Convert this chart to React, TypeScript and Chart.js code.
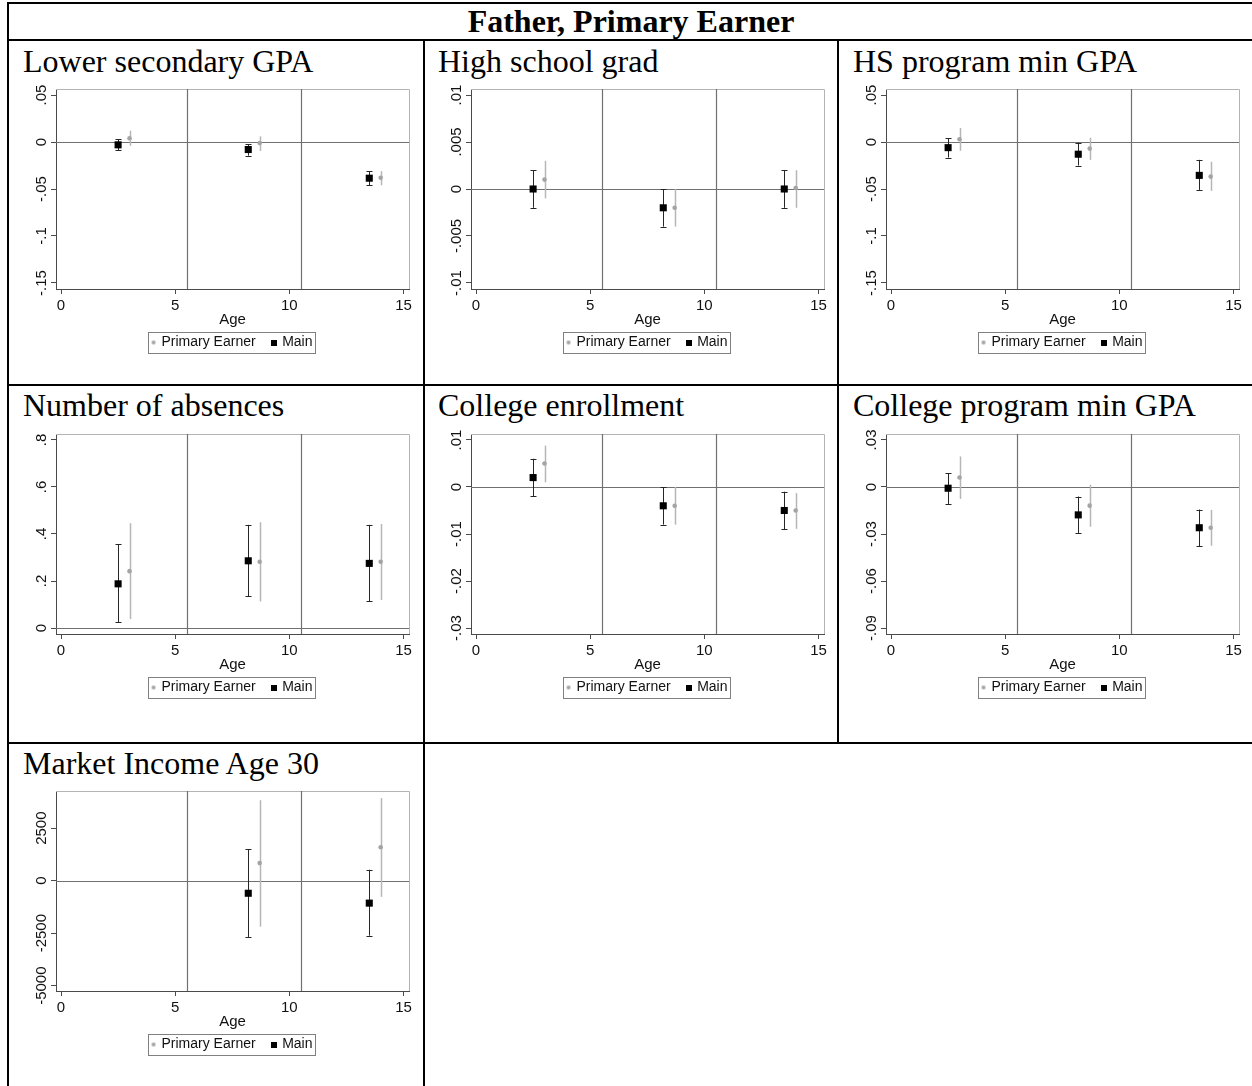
import React, { useEffect, useRef } from "react";
import { Chart, registerables } from "chart.js";

Chart.register(...registerables);

// ---------------- data ----------------
const pageTitle = "Father, Primary Earner";
const seriesNames = ["Primary Earner", "Main"];
const xAxisTitle = "Age";

const mainAges = [2.5, 8.2, 13.5];
const earnerAges = [3.0, 8.7, 14.0];
const ageTicks = [0, 5, 10, 15];
const ageTickLabels = ["0", "5", "10", "15"];
const ageBreaks = [5.5, 10.5];
const zeroLine = 0;

// Lower secondary GPA
const gpaMain = [-0.003, -0.008, -0.0385];
const gpaMainLo = [-0.009, -0.0145, -0.046];
const gpaMainHi = [0.003, -0.0025, -0.031];
const gpaEarner = [0.004, -0.001, -0.038];
const gpaEarnerLo = [-0.004, -0.0095, -0.046];
const gpaEarnerHi = [0.012, 0.006, -0.031];
const gpaTicks = [-0.15, -0.1, -0.05, 0, 0.05];
const gpaTickLabels = ["-.15", "-.1", "-.05", "0", ".05"];

// High school grad
const hsMain = [0, -0.002, 0];
const hsMainLo = [-0.002, -0.004, -0.002];
const hsMainHi = [0.002, 0, 0.002];
const hsEarner = [0.001, -0.002, 0.0001];
const hsEarnerLo = [-0.001, -0.004, -0.002];
const hsEarnerHi = [0.003, 0, 0.002];
const hsTicks = [-0.01, -0.005, 0, 0.005, 0.01];
const hsTickLabels = ["-.01", "-.005", "0", ".005", ".01"];

// HS program min GPA
const hsGpaMain = [-0.006, -0.013, -0.0355];
const hsGpaMainLo = [-0.0165, -0.025, -0.051];
const hsGpaMainHi = [0.004, -0.0007, -0.019];
const hsGpaEarner = [0.003, -0.007, -0.0368];
const hsGpaEarnerLo = [-0.0093, -0.019, -0.052];
const hsGpaEarnerHi = [0.015, 0.0046, -0.021];
const hsGpaTicks = [-0.15, -0.1, -0.05, 0, 0.05];
const hsGpaTickLabels = ["-.15", "-.1", "-.05", "0", ".05"];

// Number of absences
const absMain = [0.188, 0.286, 0.275];
const absMainLo = [0.024, 0.136, 0.113];
const absMainHi = [0.357, 0.439, 0.439];
const absEarner = [0.242, 0.282, 0.282];
const absEarnerLo = [0.038, 0.113, 0.119];
const absEarnerHi = [0.446, 0.45, 0.443];
const absTicks = [0, 0.2, 0.4, 0.6, 0.8];
const absTickLabels = ["0", ".2", ".4", ".6", ".8"];

// College enrollment
const colMain = [0.002, -0.004, -0.005];
const colMainLo = [-0.002, -0.008, -0.009];
const colMainHi = [0.006, 0, -0.001];
const colEarner = [0.005, -0.004, -0.005];
const colEarnerLo = [0.001, -0.008, -0.0089];
const colEarnerHi = [0.0088, 0, -0.0013];
const colTicks = [-0.03, -0.02, -0.01, 0, 0.01];
const colTickLabels = ["-.03", "-.02", "-.01", "0", ".01"];

// College program min GPA
const cpMain = [-0.0008, -0.0178, -0.026];
const cpMainLo = [-0.0108, -0.0296, -0.0379];
const cpMainHi = [0.0087, -0.0061, -0.0144];
const cpEarner = [0.006, -0.0119, -0.026];
const cpEarnerLo = [-0.0076, -0.0254, -0.0375];
const cpEarnerHi = [0.0195, 0.0015, -0.0146];
const cpTicks = [-0.09, -0.06, -0.03, 0, 0.03];
const cpTickLabels = ["-.09", "-.06", "-.03", "0", ".03"];

// Market Income Age 30
const incMain = [null, -600, -1070];
const incMainLo = [null, -2680, -2620];
const incMainHi = [null, 1500, 520];
const incEarner = [null, 836, 1590];
const incEarnerLo = [null, -2190, -770];
const incEarnerHi = [null, 3830, 3930];
const incTicks = [-5000, -2500, 0, 2500];
const incTickLabels = ["-5000", "-2500", "0", "2500"];

// axis ranges
const ageRange = [-0.22, 15.24];
const gpaRange = [-0.1564, 0.0564];
const hsRange = [-0.01064, 0.01064];
const hsGpaRange = [-0.1564, 0.0564];
const absRange = [-0.0255, 0.8255];
const colRange = [-0.03127, 0.01127];
const cpRange = [-0.0938, 0.0338];
const incRange = [-5253, 4268];

// ---------------- styling ----------------
const SANS = "Arial, 'Liberation Sans', Helvetica, sans-serif";
const SERIF = "'Times New Roman', 'Liberation Serif', serif";
const AXIS = "#4a4a4a";
const FRAME = "#b4b4b4";
const REF = "#707070";
const MAIN_COLOR = "#000000";
const MAIN_BAR = "#262626";
const EARNER_COLOR = "#a4a4a4";
const EARNER_BAR = "#b6b6b6";
const TEXT = "#111111";

type PanelSpec = {
  title: string;
  main: (number | null)[];
  mainLo: (number | null)[];
  mainHi: (number | null)[];
  earner: (number | null)[];
  earnerLo: (number | null)[];
  earnerHi: (number | null)[];
  ticks: number[];
  tickLabels: string[];
  range: number[];
};

const panels: PanelSpec[] = [
  { title: "Lower secondary GPA", main: gpaMain, mainLo: gpaMainLo, mainHi: gpaMainHi, earner: gpaEarner, earnerLo: gpaEarnerLo, earnerHi: gpaEarnerHi, ticks: gpaTicks, tickLabels: gpaTickLabels, range: gpaRange },
  { title: "High school grad", main: hsMain, mainLo: hsMainLo, mainHi: hsMainHi, earner: hsEarner, earnerLo: hsEarnerLo, earnerHi: hsEarnerHi, ticks: hsTicks, tickLabels: hsTickLabels, range: hsRange },
  { title: "HS program min GPA", main: hsGpaMain, mainLo: hsGpaMainLo, mainHi: hsGpaMainHi, earner: hsGpaEarner, earnerLo: hsGpaEarnerLo, earnerHi: hsGpaEarnerHi, ticks: hsGpaTicks, tickLabels: hsGpaTickLabels, range: hsGpaRange },
  { title: "Number of absences", main: absMain, mainLo: absMainLo, mainHi: absMainHi, earner: absEarner, earnerLo: absEarnerLo, earnerHi: absEarnerHi, ticks: absTicks, tickLabels: absTickLabels, range: absRange },
  { title: "College enrollment", main: colMain, mainLo: colMainLo, mainHi: colMainHi, earner: colEarner, earnerLo: colEarnerLo, earnerHi: colEarnerHi, ticks: colTicks, tickLabels: colTickLabels, range: colRange },
  { title: "College program min GPA", main: cpMain, mainLo: cpMainLo, mainHi: cpMainHi, earner: cpEarner, earnerLo: cpEarnerLo, earnerHi: cpEarnerHi, ticks: cpTicks, tickLabels: cpTickLabels, range: cpRange },
  { title: "Market Income Age 30", main: incMain, mainLo: incMainLo, mainHi: incMainHi, earner: incEarner, earnerLo: incEarnerLo, earnerHi: incEarnerHi, ticks: incTicks, tickLabels: incTickLabels, range: incRange },
];

// layout (page coordinates)
const colLefts = [8, 423, 838];
const rowLines = [40, 385, 743];
const canvasTops = [81, 426, 783];
const titleBaselines = [72, 416, 774];
const CANVAS_W = 410;
const CANVAS_H = 280;

const stataPlugin = {
  id: "stata",
  beforeDatasetsDraw(chart: any, _args: any, opts: any) {
    const { ctx, chartArea: a } = chart;
    const xs = chart.scales.x;
    const ys = chart.scales.y;
    ctx.save();
    // outer frame top/right
    ctx.strokeStyle = FRAME;
    ctx.lineWidth = 1;
    ctx.beginPath();
    ctx.moveTo(a.left, Math.round(a.top) + 0.5);
    ctx.lineTo(Math.round(a.right) + 0.5, Math.round(a.top) + 0.5);
    ctx.lineTo(Math.round(a.right) + 0.5, a.bottom);
    ctx.stroke();
    // reference lines
    ctx.strokeStyle = REF;
    ctx.lineWidth = 1.2;
    ageBreaks.forEach((v) => {
      const px = Math.round(xs.getPixelForValue(v)) + 0.5;
      ctx.beginPath();
      ctx.moveTo(px, a.top);
      ctx.lineTo(px, a.bottom);
      ctx.stroke();
    });
    const py = Math.round(ys.getPixelForValue(zeroLine)) + 0.5;
    ctx.beginPath();
    ctx.moveTo(a.left, py);
    ctx.lineTo(a.right, py);
    ctx.stroke();
    // error bars
    chart.data.datasets.forEach((ds: any) => {
      ds.data.forEach((p: any, i: number) => {
        if (p.y == null || ds.errLo[i] == null || ds.errHi[i] == null) return;
        const px = Math.round(xs.getPixelForValue(p.x)) + 0.5;
        const y1 = ys.getPixelForValue(ds.errLo[i]);
        const y2 = ys.getPixelForValue(ds.errHi[i]);
        ctx.strokeStyle = ds.errColor;
        ctx.lineWidth = ds.errWidth;
        ctx.beginPath();
        ctx.moveTo(px, y1);
        ctx.lineTo(px, y2);
        if (ds.capHalf > 0) {
          const c1 = Math.round(y1) + 0.5;
          const c2 = Math.round(y2) + 0.5;
          ctx.moveTo(px - ds.capHalf, c1);
          ctx.lineTo(px + ds.capHalf, c1);
          ctx.moveTo(px - ds.capHalf, c2);
          ctx.lineTo(px + ds.capHalf, c2);
        }
        ctx.stroke();
      });
    });
    ctx.restore();
  },
  afterDraw(chart: any, _args: any, opts: any) {
    const { ctx, chartArea: a } = chart;
    const ys = chart.scales.y;
    ctx.save();
    // rotated y tick labels
    ctx.font = `15px ${SANS}`;
    ctx.fillStyle = TEXT;
    ctx.textAlign = "center";
    ctx.textBaseline = "middle";
    (opts.ticks as number[]).forEach((v, i) => {
      const py = ys.getPixelForValue(v);
      ctx.save();
      ctx.translate(a.left - 14, py);
      ctx.rotate(-Math.PI / 2);
      ctx.fillText(opts.tickLabels[i], 0, 0);
      ctx.restore();
    });
    // legend frame
    const lg = chart.legend;
    if (lg && lg.legendHitBoxes && lg.legendHitBoxes.length) {
      const hb = lg.legendHitBoxes;
      const left = hb[0].left - 4.5;
      const last = hb[hb.length - 1];
      const right = last.left + last.width + 3;
      const cy = hb[0].top + hb[0].height / 2;
      ctx.strokeStyle = "#808080";
      ctx.lineWidth = 1;
      ctx.strokeRect(Math.round(left) + 0.5, Math.round(cy - 10.5) + 0.5, Math.round(right - left), 21);
    }
    ctx.restore();
  },
};

function makeMarker(kind: "circle" | "square"): HTMLCanvasElement {
  const c = document.createElement("canvas");
  const s = 6;
  c.width = s;
  c.height = s;
  const g = c.getContext("2d")!;
  if (kind === "circle") {
    g.fillStyle = EARNER_COLOR;
    g.beginPath();
    g.arc(3, 3, 2, 0, Math.PI * 2);
    g.fill();
  } else {
    g.fillStyle = MAIN_COLOR;
    g.fillRect(0, 0, 6, 6);
  }
  return c;
}

function Panel({ spec, left, top }: { spec: PanelSpec; left: number; top: number }) {
  const ref = useRef<HTMLCanvasElement | null>(null);
  useEffect(() => {
    if (!ref.current) return;
    const markers = [makeMarker("circle"), makeMarker("square")];
    const chart = new Chart(ref.current, {
      type: "scatter",
      data: {
        datasets: [
          {
            label: seriesNames[0],
            data: earnerAges.map((x, i) => ({ x, y: spec.earner[i] })),
            pointStyle: "circle",
            pointRadius: 2.3,
            pointBackgroundColor: EARNER_COLOR,
            pointBorderWidth: 0,
            errLo: spec.earnerLo,
            errHi: spec.earnerHi,
            errColor: EARNER_BAR,
            errWidth: 1.5,
            capHalf: 0,
          } as any,
          {
            label: seriesNames[1],
            data: mainAges.map((x, i) => ({ x, y: spec.main[i] })),
            pointStyle: "rect",
            pointRadius: 5,
            pointBackgroundColor: MAIN_COLOR,
            pointBorderWidth: 0,
            errLo: spec.mainLo,
            errHi: spec.mainHi,
            errColor: MAIN_BAR,
            errWidth: 1,
            capHalf: 3,
          } as any,
        ],
      },
      options: {
        animation: false,
        responsive: false,
        maintainAspectRatio: false,
        events: [],
        layout: { padding: { left: 0, right: 11, top: 8, bottom: 1.5 } },
        plugins: {
          tooltip: { enabled: false },
          legend: {
            display: true,
            position: "bottom",
            align: "center",
            fullSize: false,
            labels: {
              usePointStyle: true,
              boxWidth: 2,
              boxHeight: 6,
              padding: 17.5,
              color: TEXT,
              font: { family: SANS, size: 14 },
              generateLabels: (c: any) =>
                c.data.datasets.map((ds: any, i: number) => ({
                  text: ds.label,
                  pointStyle: markers[i],
                  fillStyle: "transparent",
                  strokeStyle: "transparent",
                  lineWidth: 0,
                  hidden: false,
                  datasetIndex: i,
                  fontColor: TEXT,
                })),
            },
          },
          stata: { ticks: spec.ticks, tickLabels: spec.tickLabels },
        } as any,
        scales: {
          x: {
            type: "linear",
            position: "bottom",
            min: ageRange[0],
            max: ageRange[1],
            afterBuildTicks: (s: any) => {
              s.ticks = ageTicks.map((v) => ({ value: v }));
            },
            afterFit: (s: any) => {
              s.height = 29;
              s.paddingLeft = 0;
              s.paddingRight = 0;
            },
            grid: { display: true, drawOnChartArea: false, drawTicks: true, tickLength: 5, color: AXIS, lineWidth: 1 },
            border: { display: true, color: AXIS, width: 1 },
            ticks: {
              padding: 3,
              color: TEXT,
              font: { family: SANS, size: 15 },
              maxRotation: 0,
              minRotation: 0,
              autoSkip: false,
              callback: (_v: any, i: number) => ageTickLabels[i],
            },
            title: {
              display: true,
              text: xAxisTitle,
              color: TEXT,
              font: { family: SANS, size: 15 },
              padding: { top: 0, bottom: -10.5 },
            },
          },
          y: {
            type: "linear",
            min: spec.range[0],
            max: spec.range[1],
            afterBuildTicks: (s: any) => {
              s.ticks = spec.ticks.map((v) => ({ value: v }));
            },
            afterFit: (s: any) => {
              s.width = 46;
              s.paddingTop = 0;
              s.paddingBottom = 0;
            },
            grid: { display: true, drawOnChartArea: false, drawTicks: true, tickLength: 5, color: AXIS, lineWidth: 1 },
            border: { display: true, color: AXIS, width: 1 },
            ticks: { display: false },
          },
        },
      },
      plugins: [stataPlugin],
    } as any);
    return () => chart.destroy();
  }, [spec]);
  return (
    <canvas
      ref={ref}
      width={CANVAS_W}
      height={CANVAS_H}
      style={{ position: "absolute", left, top, width: CANVAS_W, height: CANVAS_H }}
    />
  );
}

function Line({ x, y, w, h }: { x: number; y: number; w: number; h: number }) {
  return <div style={{ position: "absolute", left: x, top: y, width: w, height: h, background: "#000" }} />;
}

export default function App() {
  return (
    <div
      style={{
        position: "absolute",
        left: 0,
        top: 0,
        width: 1252,
        height: 1086,
        overflow: "hidden",
        background: "#fff",
      }}
    >
      {/* table rules */}
      <Line x={7} y={2} w={1260} h={2} />
      <Line x={7} y={rowLines[0] - 1} w={1260} h={2} />
      <Line x={7} y={rowLines[1] - 1} w={1260} h={2} />
      <Line x={7} y={rowLines[2] - 1} w={1260} h={2} />
      <Line x={7} y={2} w={2} h={1100} />
      <Line x={colLefts[1] - 0.5} y={rowLines[0]} w={2} h={1100} />
      <Line x={colLefts[2] - 1} y={rowLines[0]} w={2} h={rowLines[2] - rowLines[0]} />

      <div
        style={{
          position: "absolute",
          left: 8,
          width: 1246,
          top: 2.7,
          textAlign: "center",
          fontFamily: SERIF,
          fontWeight: "bold",
          fontSize: 32,
          lineHeight: "36px",
          whiteSpace: "nowrap",
        }}
      >
        {pageTitle}
      </div>

      {panels.map((p, i) => {
        const col = i % 3;
        const row = Math.floor(i / 3);
        return (
          <React.Fragment key={p.title}>
            <div
              style={{
                position: "absolute",
                left: colLefts[col] + 15,
                top: titleBaselines[row] - 28.8,
                fontFamily: SERIF,
                fontSize: 32,
                lineHeight: "36px",
                whiteSpace: "nowrap",
                color: "#000",
              }}
            >
              {p.title}
            </div>
            <Panel spec={p} left={colLefts[col] + 2} top={canvasTops[row]} />
          </React.Fragment>
        );
      })}
    </div>
  );
}
